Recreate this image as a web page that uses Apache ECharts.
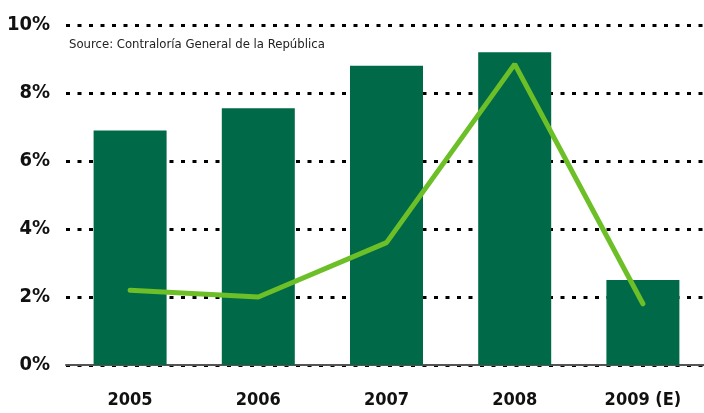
<!DOCTYPE html>
<html>
<head>
    <meta charset="utf-8" />
    <script src="https://cdn.jsdelivr.net/npm/echarts@6/dist/echarts.min.js"></script>
    <style>
        body { margin: 0; background: #fff; }
    </style>
</head>
<body>
    <div id="main" style="width: 704px;height:413px;"></div>
    <script type="text/javascript">
        const years = ['2005', '2006', '2007', '2008', '2009 (E)'];
        const barValues = [6.9, 7.55, 8.8, 9.2, 2.5];
        const lineValues = [2.2, 2.0, 3.6, 8.85, 1.8];
        const yTicks = [0, 2, 4, 6, 8, 10];

        const FONT = '"DejaVu Sans Condensed", "Liberation Sans Narrow", sans-serif';

        const myChart = echarts.init(document.getElementById('main'));
        myChart.setOption({
            animation: false,
            grid: { left: 66, top: 25, width: 641, height: 340, outerBoundsMode: 'none' },
            graphic: [{
                type: 'text',
                left: 69,
                top: 38,
                style: {
                    text: 'Source: Contraloría General de la República',
                    font: '13px ' + FONT,
                    fill: '#222'
                }
            }],
            xAxis: {
                type: 'category',
                data: years,
                axisLine: { lineStyle: { color: '#555', width: 2 } },
                axisTick: { show: false },
                axisLabel: {
                    margin: 26,
                    color: '#111',
                    fontFamily: FONT,
                    fontWeight: 'bold',
                    fontSize: 18
                }
            },
            yAxis: {
                type: 'value',
                min: yTicks[0],
                max: yTicks[yTicks.length - 1],
                interval: 2,
                axisLine: { show: false },
                axisTick: { show: false },
                axisLabel: {
                    margin: 16,
                    color: '#111',
                    fontFamily: FONT,
                    fontWeight: 'bold',
                    fontSize: 20,
                    formatter: '{value}%'
                },
                splitLine: {
                    lineStyle: { color: '#000', width: 3, type: [4, 7.5] }
                }
            },
            series: [{
                type: 'bar',
                data: barValues,
                barWidth: 73,
                itemStyle: { color: '#006a48' }
            }, {
                type: 'line',
                data: lineValues,
                symbol: 'none',
                lineStyle: { color: '#6cbf26', width: 5, cap: 'round' }
            }]
        });
    </script>
</body>
</html>
